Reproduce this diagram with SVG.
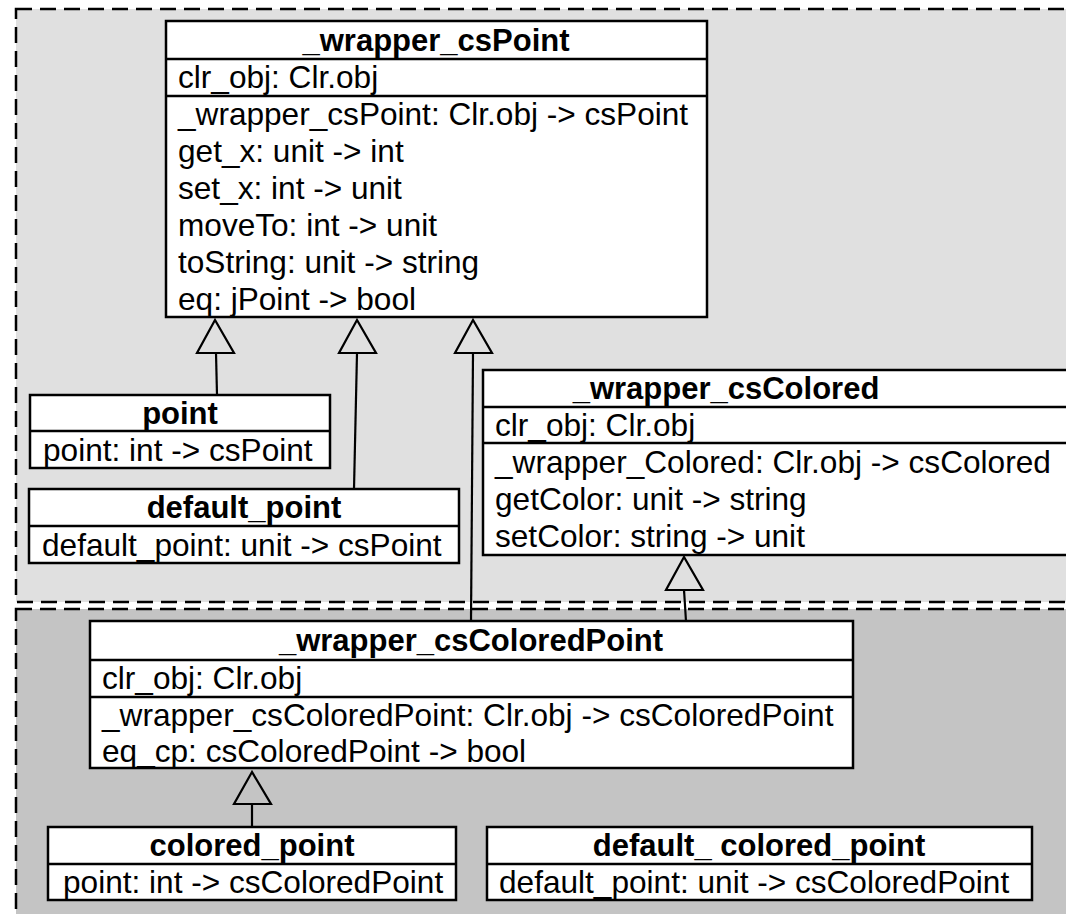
<svg xmlns="http://www.w3.org/2000/svg" width="1066" height="914" viewBox="0 0 1066 914">
<style>
.box{fill:#fff;stroke:#000;stroke-width:2.5}
.sep{stroke:#000;stroke-width:2.5}
.t{font-family:"Liberation Sans",Arial,sans-serif;font-size:31.6px;fill:#000}
.h{font-family:"Liberation Sans",Arial,sans-serif;font-size:31px;font-weight:bold;fill:#000;text-anchor:middle}
.region{stroke:#000;stroke-width:2.5;stroke-dasharray:16 8}
.conn{stroke:#000;stroke-width:2.2;fill:none}
.tri{fill:none;stroke:#000;stroke-width:2.2;stroke-linejoin:miter}
</style>
<rect width="1066" height="914" fill="#fff"/>
<g id="regions">
<rect class="region" x="16" y="9" width="1080" height="593" fill="#e0e0e0"/>
<rect class="region" x="16" y="609" width="1080" height="330" fill="#c4c4c4"/>
</g>
<g id="connectors">
<line class="conn" x1="216" y1="353" x2="217" y2="395"/>
<polygon class="tri" points="215,320 197,353 234,353"/>
<line class="conn" x1="357" y1="353" x2="354" y2="489"/>
<polygon class="tri" points="357,320 339,353 376,353"/>
<line class="conn" x1="473" y1="353" x2="471" y2="621"/>
<polygon class="tri" points="473,320 455,353 492,353"/>
<line class="conn" x1="684" y1="590" x2="686" y2="621"/>
<polygon class="tri" points="684,557 666,590 703,590"/>
<line class="conn" x1="252" y1="804" x2="252" y2="827"/>
<polygon class="tri" points="252,772 234,804 271,804"/>
</g>
<g id="wrapper_csPoint">
<rect class="box" x="166" y="21" width="541" height="296"/>
<line class="sep" x1="166" y1="59" x2="707" y2="59"/>
<line class="sep" x1="166" y1="96" x2="707" y2="96"/>
<text class="h" x="436" y="51">_wrapper_csPoint</text>
<text class="t" x="178" y="88">clr_obj: Clr.obj</text>
<text class="t" x="178" y="125">_wrapper_csPoint: Clr.obj -&gt; csPoint</text>
<text class="t" x="178" y="162">get_x: unit -&gt; int</text>
<text class="t" x="178" y="199">set_x: int -&gt; unit</text>
<text class="t" x="178" y="236">moveTo: int -&gt; unit</text>
<text class="t" x="178" y="273">toString: unit -&gt; string</text>
<text class="t" x="178" y="310">eq: jPoint -&gt; bool</text>
</g>
<g id="point">
<rect class="box" x="30" y="395" width="300" height="73"/>
<line class="sep" x1="30" y1="431" x2="330" y2="431"/>
<text class="h" x="180" y="424">point</text>
<text class="t" x="43" y="461">point: int -&gt; csPoint</text>
</g>
<g id="default_point">
<rect class="box" x="29" y="489" width="430" height="74"/>
<line class="sep" x1="29" y1="526" x2="459" y2="526"/>
<text class="h" x="244" y="518">default_point</text>
<text class="t" x="42" y="556">default_point: unit -&gt; csPoint</text>
</g>
<g id="wrapper_csColored">
<rect class="box" x="483" y="370" width="600" height="185"/>
<line class="sep" x1="483" y1="407" x2="1083" y2="407"/>
<line class="sep" x1="483" y1="443" x2="1083" y2="443"/>
<text class="h" x="726" y="399">_wrapper_csColored</text>
<text class="t" x="495" y="436">clr_obj: Clr.obj</text>
<text class="t" x="495" y="473">_wrapper_Colored: Clr.obj -&gt; csColored</text>
<text class="t" x="495" y="510">getColor: unit -&gt; string</text>
<text class="t" x="495" y="547">setColor: string -&gt; unit</text>
</g>
<g id="wrapper_csColoredPoint">
<rect class="box" x="90" y="621" width="763" height="147"/>
<line class="sep" x1="90" y1="660" x2="853" y2="660"/>
<line class="sep" x1="90" y1="697" x2="853" y2="697"/>
<text class="h" x="471" y="651">_wrapper_csColoredPoint</text>
<text class="t" x="102" y="689">clr_obj: Clr.obj</text>
<text class="t" x="102" y="726">_wrapper_csColoredPoint: Clr.obj -&gt; csColoredPoint</text>
<text class="t" x="102" y="762">eq_cp: csColoredPoint -&gt; bool</text>
</g>
<g id="colored_point">
<rect class="box" x="48" y="827" width="408" height="73"/>
<line class="sep" x1="48" y1="864" x2="456" y2="864"/>
<text class="h" x="252" y="856">colored_point</text>
<text class="t" x="63" y="893">point: int -&gt; csColoredPoint</text>
</g>
<g id="default_colored_point">
<rect class="box" x="487" y="827" width="545" height="73"/>
<line class="sep" x1="487" y1="864" x2="1032" y2="864"/>
<text class="h" x="759" y="856">default_ colored_point</text>
<text class="t" x="499" y="893">default_point: unit -&gt; csColoredPoint</text>
</g>
</svg>
